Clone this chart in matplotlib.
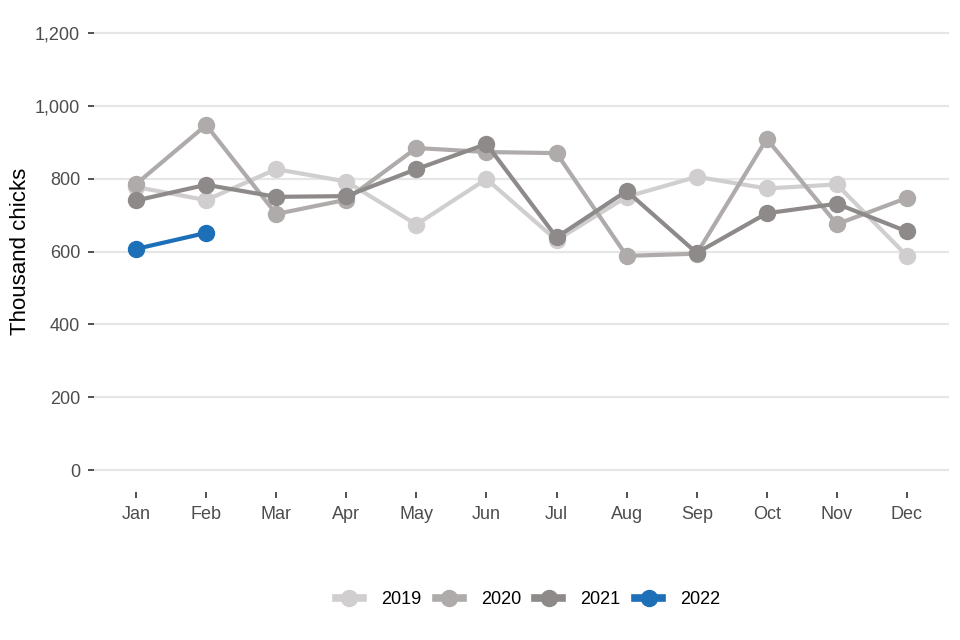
import matplotlib
matplotlib.use("Agg")
import matplotlib.pyplot as plt
from matplotlib.lines import Line2D

months = ["Jan", "Feb", "Mar", "Apr", "May", "Jun", "Jul", "Aug", "Sep", "Oct", "Nov", "Dec"]
y2019 = [777, 741, 826, 792, 674, 799, 631, 750, 805, 773, 784, 588]
y2020 = [785, 947, 703, 742, 884, 873, 870, 588, 594, 909, 675, 747]
y2021 = [740, 783, 750, 752, 826, 895, 639, 766, 596, 705, 731, 655]
y2022 = [607, 651]
series = [("2019", y2019, "#d0cece"), ("2020", y2020, "#afabab"),
          ("2021", y2021, "#8e8a8a"), ("2022", y2022, "#1d70b8")]
yticks = [0, 200, 400, 600, 800, 1000, 1200]

plt.rcParams['font.family'] = ['Liberation Sans', 'DejaVu Sans']
fig = plt.figure(figsize=(9.6, 6.4), dpi=100)
ax = fig.add_axes([94/960, 1-492/640, (949-94)/960, (492-11)/640])

for name, vals, col in series:
    ax.plot(range(len(vals)), vals, color=col, lw=3, marker="o", ms=11.5,
            solid_capstyle="butt", label=name, zorder=3)

ax.set_xlim(-0.6, 11.6)
ax.set_ylim(-60, 1260)
ax.set_xticks(range(12))
ax.set_xticklabels(months)
ax.set_yticks(yticks)
ax.set_yticklabels([f"{v:,}" for v in yticks])
ax.grid(axis="y", color="#e6e6e6", lw=1.6, zorder=0)
ax.grid(axis="x", visible=False)
for s in ax.spines.values():
    s.set_visible(False)
ax.tick_params(axis="both", labelsize=13, labelcolor="#4d4d4d", color="#333333",
               length=4, width=1.2, pad=6)
ax.set_ylabel("Thousand chicks", fontsize=16, color="black")
ax.yaxis.set_label_coords(-0.074, 0.5)

handles = [Line2D([0], [0], color=c, lw=5.5, marker="o", ms=11.5) for _, _, c in series]
fig.legend(handles, [n for n, _, _ in series], loc="center", bbox_to_anchor=(0.55, 0.0625),
           ncol=4, frameon=False, fontsize=13, handlelength=1.5, handletextpad=1.0,
           columnspacing=0.8)

fig.savefig("out.png", dpi=100)
